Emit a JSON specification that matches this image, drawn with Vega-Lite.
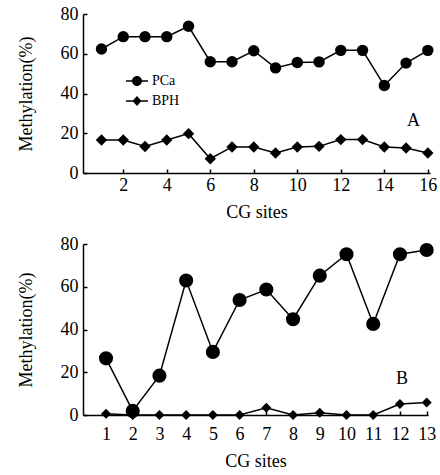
{
  "$schema": "https://vega.github.io/schema/vega-lite/v6.json",
  "background": "white",
  "padding": {"left": 17, "top": 5, "right": 0, "bottom": 5},
  "spacing": 14,
  "config": {
    "font": "Liberation Serif",
    "view": {"stroke": null},
    "axis": {
      "grid": false,
      "domainColor": "black",
      "domainWidth": 1.5,
      "tickColor": "black",
      "tickWidth": 1.5,
      "tickSize": -4,
      "labelColor": "black",
      "titleColor": "black",
      "labelFont": "Liberation Serif",
      "titleFont": "Liberation Serif",
      "labelFontSize": 18,
      "titleFontSize": 18,
      "titleFontWeight": "normal",
      "labelPadding": 9
    },
    "axisY": {"titlePadding": 25},
    "axisX": {"titlePadding": 9},
    "title": {"font": "Liberation Serif", "fontSize": 18, "fontWeight": "normal", "color": "black"}
  },
  "datasets": {
    "a": [
      {"site": 1, "series": "PCa", "pct": 62.4},
      {"site": 2, "series": "PCa", "pct": 68.6},
      {"site": 3, "series": "PCa", "pct": 68.6},
      {"site": 4, "series": "PCa", "pct": 68.6},
      {"site": 5, "series": "PCa", "pct": 73.8},
      {"site": 6, "series": "PCa", "pct": 56.0},
      {"site": 7, "series": "PCa", "pct": 56.0},
      {"site": 8, "series": "PCa", "pct": 61.5},
      {"site": 9, "series": "PCa", "pct": 52.9},
      {"site": 10, "series": "PCa", "pct": 55.6},
      {"site": 11, "series": "PCa", "pct": 55.9},
      {"site": 12, "series": "PCa", "pct": 61.7},
      {"site": 13, "series": "PCa", "pct": 61.7},
      {"site": 14, "series": "PCa", "pct": 44.0},
      {"site": 15, "series": "PCa", "pct": 55.3},
      {"site": 16, "series": "PCa", "pct": 61.7},
      {"site": 1, "series": "BPH", "pct": 16.6},
      {"site": 2, "series": "BPH", "pct": 16.6},
      {"site": 3, "series": "BPH", "pct": 13.3},
      {"site": 4, "series": "BPH", "pct": 16.6},
      {"site": 5, "series": "BPH", "pct": 19.8},
      {"site": 6, "series": "BPH", "pct": 7.2},
      {"site": 7, "series": "BPH", "pct": 13.1},
      {"site": 8, "series": "BPH", "pct": 13.1},
      {"site": 9, "series": "BPH", "pct": 10.1},
      {"site": 10, "series": "BPH", "pct": 13.1},
      {"site": 11, "series": "BPH", "pct": 13.4},
      {"site": 12, "series": "BPH", "pct": 16.8},
      {"site": 13, "series": "BPH", "pct": 16.8},
      {"site": 14, "series": "BPH", "pct": 13.1},
      {"site": 15, "series": "BPH", "pct": 12.6},
      {"site": 16, "series": "BPH", "pct": 10.1}
    ],
    "b": [
      {"site": 1, "series": "PCa", "pct": 26.5},
      {"site": 2, "series": "PCa", "pct": 1.9},
      {"site": 3, "series": "PCa", "pct": 18.4},
      {"site": 4, "series": "PCa", "pct": 62.9},
      {"site": 5, "series": "PCa", "pct": 29.5},
      {"site": 6, "series": "PCa", "pct": 53.8},
      {"site": 7, "series": "PCa", "pct": 58.7},
      {"site": 8, "series": "PCa", "pct": 44.8},
      {"site": 9, "series": "PCa", "pct": 65.2},
      {"site": 10, "series": "PCa", "pct": 75.2},
      {"site": 11, "series": "PCa", "pct": 42.6},
      {"site": 12, "series": "PCa", "pct": 75.2},
      {"site": 13, "series": "PCa", "pct": 77.2},
      {"site": 1, "series": "BPH", "pct": 0.6},
      {"site": 2, "series": "BPH", "pct": 0},
      {"site": 3, "series": "BPH", "pct": 0},
      {"site": 4, "series": "BPH", "pct": 0},
      {"site": 5, "series": "BPH", "pct": 0},
      {"site": 6, "series": "BPH", "pct": 0},
      {"site": 7, "series": "BPH", "pct": 3.4},
      {"site": 8, "series": "BPH", "pct": 0},
      {"site": 9, "series": "BPH", "pct": 1.1},
      {"site": 10, "series": "BPH", "pct": 0},
      {"site": 11, "series": "BPH", "pct": 0},
      {"site": 12, "series": "BPH", "pct": 5.1},
      {"site": 13, "series": "BPH", "pct": 5.8}
    ]
  },
  "vconcat": [
    {
      "width": 347,
      "height": 159,
      "data": {"name": "a"},
      "title": {"text": "A", "orient": "top", "anchor": "end", "frame": "group", "dx": -10, "dy": 129},
      "encoding": {
        "x": {"field": "site", "type": "quantitative", "scale": {"domain": [0.15, 16.1], "nice": false, "zero": false},
              "axis": {"values": [2, 4, 6, 8, 10, 12, 14, 16], "title": "CG sites", "labelPadding": 7}},
        "y": {"field": "pct", "type": "quantitative", "scale": {"domain": [0, 80], "nice": false},
              "axis": {"values": [0, 20, 40, 60, 80], "title": "Methylation(%)"}}
      },
      "layer": [
        {"mark": {"type": "line", "color": "black", "strokeWidth": 1.5}, "encoding": {"detail": {"field": "series"}}},
        {"mark": {"type": "point", "filled": true, "color": "black", "opacity": 1, "size": 130},
         "encoding": {"shape": {"field": "series", "type": "nominal", "scale": {"domain": ["PCa", "BPH"], "range": ["circle", "diamond"]}, "legend": null}}},
        {"transform": [{"filter": "false"}],
         "mark": {"type": "point", "filled": true, "color": "black", "opacity": 1},
         "encoding": {"shape": {"field": "series", "type": "nominal",
           "scale": {"domain": ["PCa", "BPH"], "range": ["M-2.2,-0.15H2.2V0.15H-2.2ZM1,0A1,1,0,1,1,-1,0A1,1,0,1,1,1,0Z", "M-2.2,-0.15H2.2V0.15H-2.2ZM0,-1L0.9,0L0,1L-0.9,0Z"]},
           "legend": {"title": null, "orient": "none", "legendX": 47, "legendY": 60, "padding": 0, "symbolSize": 100,
             "labelFont": "Liberation Serif", "labelFontSize": 14, "labelColor": "black", "labelOffset": 8, "rowPadding": 6,
             "symbolFillColor": "black", "symbolStrokeColor": "black", "symbolStrokeWidth": 0.5, "symbolOpacity": 1,
             "encode": {"symbols": {"update": {"stroke": {"value": "black"}, "strokeWidth": {"value": 0.5}, "fill": {"value": "black"}, "opacity": {"value": 1}, "fillOpacity": {"value": 1}}}}}}}}
      ],
      "resolve": {"scale": {"shape": "independent"}}
    },
    {
      "width": 345,
      "height": 171,
      "data": {"name": "b"},
      "title": {"text": "B", "orient": "top", "anchor": "end", "frame": "group", "dx": -20, "dy": 157},
      "encoding": {
        "x": {"field": "site", "type": "quantitative", "scale": {"domain": [0.14, 13.05], "nice": false, "zero": false},
              "axis": {"values": [1, 2, 3, 4, 5, 6, 7, 8, 9, 10, 11, 12, 13], "title": "CG sites", "labelPadding": 14}},
        "y": {"field": "pct", "type": "quantitative", "scale": {"domain": [0, 80], "nice": false},
              "axis": {"values": [0, 20, 40, 60, 80], "title": "Methylation(%)"}}
      },
      "layer": [
        {"mark": {"type": "line", "color": "black", "strokeWidth": 1.5}, "encoding": {"detail": {"field": "series"}}},
        {"mark": {"type": "point", "filled": true, "color": "black", "opacity": 1},
         "encoding": {
           "shape": {"field": "series", "type": "nominal", "scale": {"domain": ["PCa", "BPH"], "range": ["circle", "diamond"]}, "legend": null},
           "size": {"field": "series", "type": "nominal", "scale": {"domain": ["PCa", "BPH"], "range": [200, 100]}, "legend": null}}}
      ]
    }
  ]
}
